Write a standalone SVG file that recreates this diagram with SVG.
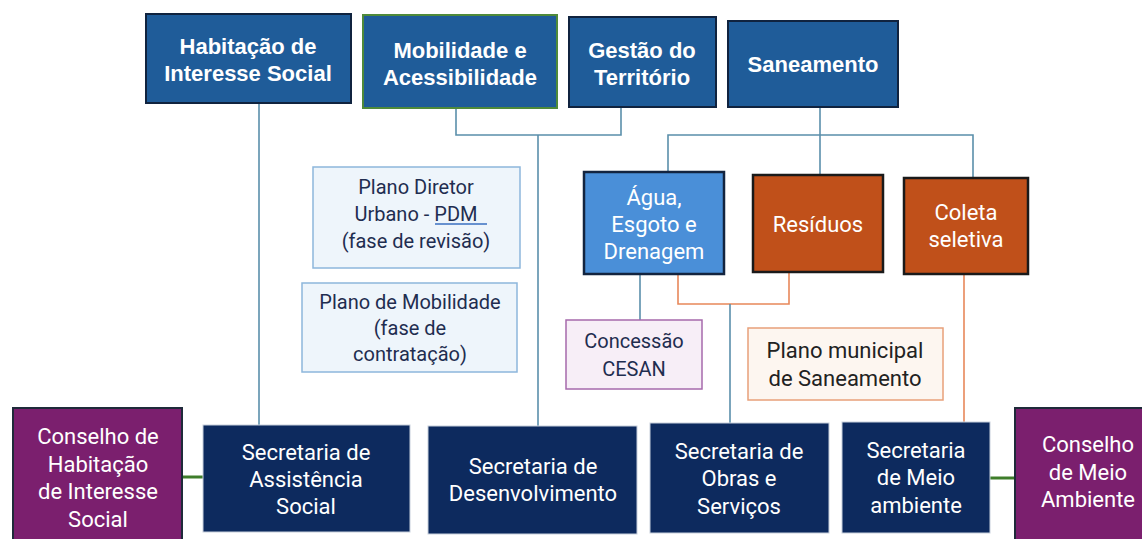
<svg xmlns="http://www.w3.org/2000/svg" width="1142" height="539" viewBox="0 0 1142 539">
<style>
text{font-family:Roboto,"Liberation Sans",sans-serif;text-anchor:middle}
.top{fill:#1f5c99;stroke:#10233f;stroke-width:2}
.topt{fill:#fff;font-weight:bold;font-size:22px;font-family:"Liberation Sans",Arial,sans-serif}
.plan{fill:#eef5fb;stroke:#8db6dc;stroke-width:1.5}
.plant{fill:#1f2d50;font-size:20px}
.agua{fill:#4a8fd8;stroke:#13243f;stroke-width:2.5}
.org{fill:#c0501a;stroke:#1a1a1a;stroke-width:2.5}
.wt{fill:#fff;font-size:22px}
.sec{fill:#0d2a5e;stroke:#c8d0dc;stroke-width:1}
.cons{fill:#7b1f6e;stroke:#1f2a3a;stroke-width:2}
.blue{stroke:#5a8fab;stroke-width:1.6;fill:none}
.orange{stroke:#e8885a;stroke-width:1.6;fill:none}
.green{stroke:#3e7d2a;stroke-width:3;fill:none}
</style>
<rect width="1142" height="539" fill="#fff"/>
<g id="connectors">
<path class="blue" d="M259 103V425"/>
<path class="blue" d="M456 108V135H621V107"/>
<path class="blue" d="M538 135V426"/>
<path class="blue" d="M820 107V175"/>
<path class="blue" d="M668 173V135H973V178"/>
<path class="blue" d="M640 274V320"/>
<path class="orange" d="M678 267V304H789V272"/>
<path class="blue" d="M730 304V423"/>
<path class="orange" d="M964 274V422"/>
<path class="green" d="M182 477H203"/>
<path class="green" d="M990 478H1015"/>
</g>
<g id="habitacao"><rect class="top" x="146" y="14" width="205" height="89"/>
<text class="topt" x="248" y="54">Habitação de</text><text class="topt" x="248" y="81">Interesse Social</text></g>
<g id="mobilidade"><rect x="363" y="15" width="194" height="93" fill="#1f5c99" stroke="#4f8a3a" stroke-width="2"/>
<text class="topt" x="460" y="58">Mobilidade e</text><text class="topt" x="460" y="85">Acessibilidade</text></g>
<g id="gestao"><rect class="top" x="569" y="17" width="147" height="90"/>
<text class="topt" x="642" y="58">Gestão do</text><text class="topt" x="642" y="85">Território</text></g>
<g id="saneamento"><rect class="top" x="728" y="21" width="170" height="86"/>
<text class="topt" x="813" y="72">Saneamento</text></g>
<g id="plano-diretor"><rect class="plan" x="313" y="167" width="207" height="101"/>
<text class="plant" x="416" y="194">Plano Diretor</text>
<text class="plant" x="416" y="221">Urbano - PDM</text>
<path d="M435 224H487" stroke="#3a6fc0" stroke-width="1.5"/>
<text class="plant" x="416" y="248">(fase de revisão)</text></g>
<g id="plano-mobilidade"><rect class="plan" x="302" y="283" width="215" height="89"/>
<text class="plant" x="410" y="309">Plano de Mobilidade</text>
<text class="plant" x="410" y="335">(fase de</text>
<text class="plant" x="410" y="361">contratação)</text></g>
<g id="agua"><rect class="agua" x="584" y="172" width="140" height="102"/>
<text class="wt" x="654" y="205">Água,</text><text class="wt" x="654" y="232">Esgoto e</text><text class="wt" x="654" y="259">Drenagem</text></g>
<g id="residuos"><rect class="org" x="753" y="175" width="130" height="97"/>
<text class="wt" x="818" y="232">Resíduos</text></g>
<g id="coleta"><rect class="org" x="904" y="178" width="124" height="96"/>
<text class="wt" x="966" y="220">Coleta</text><text class="wt" x="966" y="247">seletiva</text></g>
<g id="concessao"><rect x="566" y="320" width="136" height="69" fill="#f7eef7" stroke="#a66aac" stroke-width="1.5"/>
<text class="plant" x="634" y="348" fill="#2a3560">Concessão</text><text class="plant" x="634" y="376">CESAN</text></g>
<g id="plano-saneamento"><rect x="748" y="328" width="195" height="72" fill="#fdf6f0" stroke="#e8a07a" stroke-width="1.5"/>
<text x="845" y="358" font-size="22" fill="#222">Plano municipal</text><text x="845" y="386" font-size="22" fill="#222">de Saneamento</text></g>
<g id="conselho-habitacao"><rect class="cons" x="13" y="408" width="169" height="135"/>
<text class="wt" x="98" y="444">Conselho de</text><text class="wt" x="98" y="472">Habitação</text><text class="wt" x="98" y="499">de Interesse</text><text class="wt" x="98" y="527">Social</text></g>
<g id="sec-assistencia"><rect class="sec" x="203" y="425" width="207" height="107"/>
<text class="wt" x="306" y="460">Secretaria de</text><text class="wt" x="306" y="487">Assistência</text><text class="wt" x="306" y="514">Social</text></g>
<g id="sec-desenvolvimento"><rect class="sec" x="428" y="426" width="209" height="108"/>
<text class="wt" x="533" y="474">Secretaria de</text><text class="wt" x="533" y="501">Desenvolvimento</text></g>
<g id="sec-obras"><rect class="sec" x="650" y="423" width="179" height="110"/>
<text class="wt" x="739" y="459">Secretaria de</text><text class="wt" x="739" y="486">Obras e</text><text class="wt" x="739" y="514">Serviços</text></g>
<g id="sec-meio"><rect class="sec" x="842" y="422" width="148" height="111"/>
<text class="wt" x="916" y="458">Secretaria</text><text class="wt" x="916" y="485">de Meio</text><text class="wt" x="916" y="513">ambiente</text></g>
<g id="conselho-meio"><rect class="cons" x="1015" y="408" width="140" height="135"/>
<text class="wt" x="1088" y="452">Conselho</text><text class="wt" x="1088" y="480">de Meio</text><text class="wt" x="1088" y="507">Ambiente</text></g>
</svg>
